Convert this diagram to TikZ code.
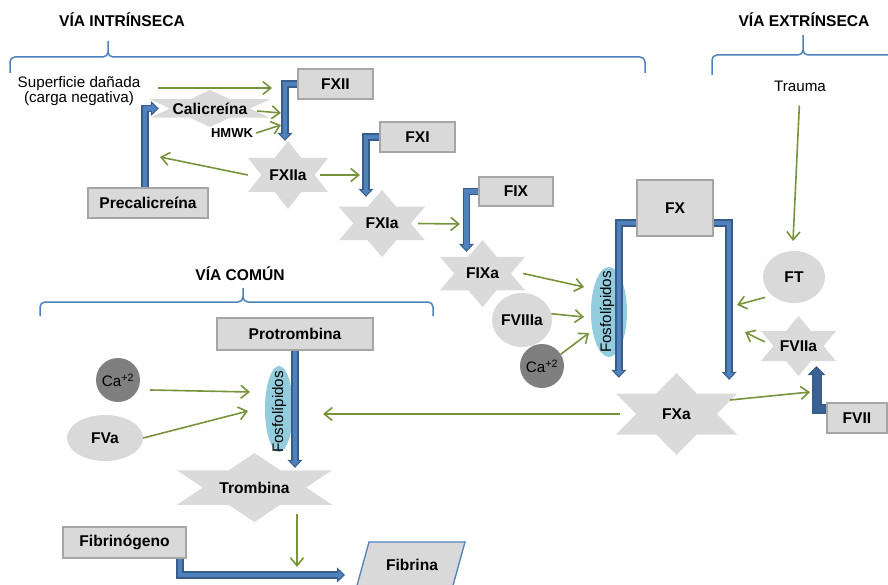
\documentclass[tikz,border=0pt]{standalone}
\usepackage{fontspec}
\setmainfont{Liberation Sans}
\usetikzlibrary{arrows.meta,shapes.geometric,calc}

\definecolor{cajagris}{HTML}{D9D9D9}
\definecolor{bordegris}{HTML}{A6A6A6}
\definecolor{estrellagris}{HTML}{DADADA}
\definecolor{verde}{HTML}{77933C}
\definecolor{azul}{HTML}{4F81BD}
\definecolor{azuloscuro}{HTML}{385D8A}
\definecolor{gris}{HTML}{7F7F7F}
\definecolor{celeste}{HTML}{93CDDD}

\newcommand{\fbold}{\fontsize{15.6}{17}\selectfont\bfseries}
\newcommand{\fnormal}{\fontsize{15.2}{14}\selectfont}

% estrella de seis puntas: nombre, centro, ancho, alto, texto
\newcommand{\estrella}[5]{%
  \fill[estrellagris,shift={#2},x=#3pt,y=#4pt] (0,0.5) -- (0.1667,0.25) -- (0.5,0.25) -- (0.3333,0)
    -- (0.5,-0.25) -- (0.1667,-0.25) -- (0,-0.5) -- (-0.1667,-0.25) -- (-0.5,-0.25) -- (-0.3333,0)
    -- (-0.5,0.25) -- (-0.1667,0.25) -- cycle;
  \node[factor,minimum width=#3pt,minimum height=#4pt] (#1) at #2 {#5};}

% llave: izquierda, punta, derecha, altura, amplitud
\newcommand{\llave}[5]{%
  \draw[llavea] (#1,#4+#5) -- (#1,#4+5) to[out=90,in=180] (#1+5,#4) -- (#2-5,#4)
    to[out=0,in=-90] (#2,#4-5) -- (#2,#4-#5) -- (#2,#4-5) to[out=-90,in=180] (#2+5,#4)
    -- (#3-5,#4) to[out=0,in=90] (#3,#4+5) -- (#3,#4+#5);}

\begin{document}
\begin{tikzpicture}[x=1pt,y=-1pt,
  caja/.style={draw=bordegris,fill=cajagris,line width=2pt,inner sep=0pt,font=\fbold},
  factor/.style={inner sep=0pt,font=\fbold},
  texto/.style={inner sep=0pt,font=\fnormal},
  titulo/.style={inner sep=0pt,font=\fbold},
  elipse/.style={ellipse,fill=cajagris,inner sep=0pt,font=\fbold},
  calcio/.style={circle,fill=gris,inner sep=0pt,minimum size=44pt,font=\fnormal},
  fosfo/.style={ellipse,fill=celeste,inner sep=0pt},
  llavea/.style={draw=azul,line width=1.5pt},
  act/.style={draw=verde,line width=1.6pt,-{Straight Barb[length=8pt,width=13pt]}},
  via/.style={draw=azuloscuro,line width=7.5pt,-{Triangle[length=8pt,width=15pt,line width=1pt,fill=azul]},
    postaction={draw=azul,line width=4.5pt,-,shorten >=7pt}},
  viagruesa/.style={draw=azuloscuro,line width=10pt,-{Triangle[length=9pt,width=18pt,line width=1pt,fill=azuloscuro!85!azul]},
    postaction={draw=azuloscuro!85!azul,line width=6pt,-,shorten >=8pt}}]
  \path[use as bounding box] (0,0) rectangle (888,585);

  % titulos
  \node[titulo] (intr) at (122,20) {VÍA INTRÍNSECA};
  \node[titulo] (extr) at (804,20) {VÍA EXTRÍNSECA};
  \node[titulo] (comun) at (240,274) {VÍA COMÚN};
  \llave{10}{108}{645}{57}{16}
  \llave{712}{803}{905}{55}{20}
  \llave{40}{243}{433}{302}{14}

  % via intrinseca
  \node[texto,align=center] (sup) at (79,91) {Superficie dañada\\(carga negativa)};
  \node[caja,minimum width=75pt,minimum height=30pt] (FXII) at (335.5,84) {FXII};
  \estrella{cal}{(210,108.5)}{120}{37}{Calicreína}
  \node[factor,font=\fontsize{13}{15}\selectfont\bfseries] (hmwk) at (232,133) {HMWK};
  \node[caja,minimum width=120pt,minimum height=30pt] (precal) at (148,203) {Precalicreína};
  \estrella{FXIIa}{(288,175)}{80}{68}{FXIIa}
  \node[caja,minimum width=75pt,minimum height=30pt] (FXI) at (417.5,137) {FXI};
  \estrella{FXIa}{(382,223.5)}{86}{67}{FXIa}
  \node[caja,minimum width=74pt,minimum height=29pt] (FIX) at (516,191.5) {FIX};
  \estrella{FIXa}{(482.5,273.5)}{85}{67}{FIXa}
  \node[elipse,minimum width=60pt,minimum height=54pt] (FVIIIa) at (522,320) {FVIIIa};
  \node[calcio] (ca1) at (542,366) {Ca\textsuperscript{+2}};
  \node[fosfo,minimum width=36pt,minimum height=90pt] (fosfo1) at (609,312) {};
  \node[texto,rotate=90] (tfosfo1) at (607,312) {Fosfolípidos};

  % via extrinseca
  \node[texto] (trauma) at (800,86) {Trauma};
  \node[elipse,minimum width=62pt,minimum height=52pt] (FT) at (794,277) {FT};
  \estrella{FVIIa}{(798.5,346)}{75}{60}{FVIIa}
  \node[caja,minimum width=60pt,minimum height=30pt] (FVII) at (857,418) {FVII};
  \node[caja,minimum width=76pt,minimum height=56pt] (FX) at (675,208) {FX};
  \estrella{FXa}{(676.5,414)}{121}{82}{FXa}

  % via comun
  \node[caja,minimum width=156pt,minimum height=32pt] (protrombina) at (295,334) {Protrombina};
  \node[calcio] (ca2) at (118,380) {Ca\textsuperscript{+2}};
  \node[elipse,minimum width=76pt,minimum height=46pt] (FVa) at (105,438) {FVa};
  \node[fosfo,minimum width=28pt,minimum height=86pt] (fosfo2) at (279,409) {};
  \node[texto,rotate=90] (tfosfo2) at (279,412) {Fosfolípidos};
  \estrella{trombina}{(254.5,487.5)}{155}{69}{Trombina}
  \node[caja,minimum width=123pt,minimum height=31pt] (fibrinogeno) at (124.5,542.5) {Fibrinógeno};
  \draw[fill=cajagris,draw=azul,line width=1.3pt] (369,542) -- (465,542) -- (449,600) -- (353,600) -- cycle;
  \node[factor] (fibrina) at (412,565) {Fibrina};

  % puntos de llegada
  \coordinate (p1) at (272,88);
  \coordinate (p2) at (281,113);
  \coordinate (p3) at (281,125);
  \coordinate (p4) at (160,157);
  \coordinate (p5) at (360,175);
  \coordinate (p6) at (460,224);
  \coordinate (p7) at (584,287);
  \coordinate (p8) at (584,317);
  \coordinate (p9) at (589,333);
  \coordinate (p10) at (793,241);
  \coordinate (p11) at (737,305);
  \coordinate (p12) at (745,332);
  \coordinate (p13) at (810,392);
  \coordinate (p14) at (323,414);
  \coordinate (p15) at (250,392);
  \coordinate (p16) at (248,411);
  \coordinate (p17) at (297,567);
  \coordinate (p18) at (345,575);

  % activaciones
  \draw[act,shorten <=18pt] ([yshift=3pt]sup.east) -- (p1);
  \draw[act] ([shift={(-13,2.5)}]cal.east) -- (p2);
  \draw[act] ([xshift=3pt]hmwk.east) -- (p3);
  \draw[act] (FXIIa.west) -- (p4);
  \draw[act] ([xshift=-8pt]FXIIa.east) -- (p5);
  \draw[act] ([xshift=-7pt]FXIa.east) -- (p6);
  \draw[act] ([xshift=-2pt]FIXa.east) -- (p7);
  \draw[act] (FVIIIa.12) -- (p8);
  \draw[act] (ca1.32) -- (p9);
  \draw[act,shorten <=14pt] (trauma.south) -- (p10);
  \draw[act,shorten <=7pt] (FT.220) -- (p11);
  \draw[act] ([shift={(4,-4)}]FVIIa.west) -- (p12);
  \draw[act] ([shift={(-7,-14)}]FXa.east) -- (p13);
  \draw[act] ([xshift=4pt]FXa.west) -- (p14);
  \draw[act] ([shift={(10,10)}]ca2.east) -- (p15);
  \draw[act] (FVa.east) -- (p16);
  \draw[act] ([shift={(42.5,26.5)}]trombina.center) -- (p17);

  % conversiones
  \draw[via] (FXII.west) -| ([xshift=-3pt]FXIIa.north);
  \draw[via] ([xshift=-3pt]precal.north) |- ([xshift=9pt]cal.west);
  \draw[via] (FXI.west) -| ([shift={(-16,7)}]FXIa.north);
  \draw[via] (FIX.west) -| ([shift={(-16,12)}]FIXa.north);
  \draw[via] ([shift={(0,-14)}]FX.south west) -| ([shift={(3,5)}]FXa.north west);
  \draw[via] ([shift={(0,-14)}]FX.south east) -| ([shift={(-8,7)}]FXa.north east);
  \draw[viagruesa] ([shift={(0,-9)}]FVII.west) -| ([shift={(18,-10)}]FVIIa.south);
  \draw[via] (protrombina.south) -- ($(protrombina.south |- trombina.north)+(0,15)$);
  \draw[via] ([xshift=-7pt]fibrinogeno.south east) |- (p18);
\end{tikzpicture}
\end{document}
